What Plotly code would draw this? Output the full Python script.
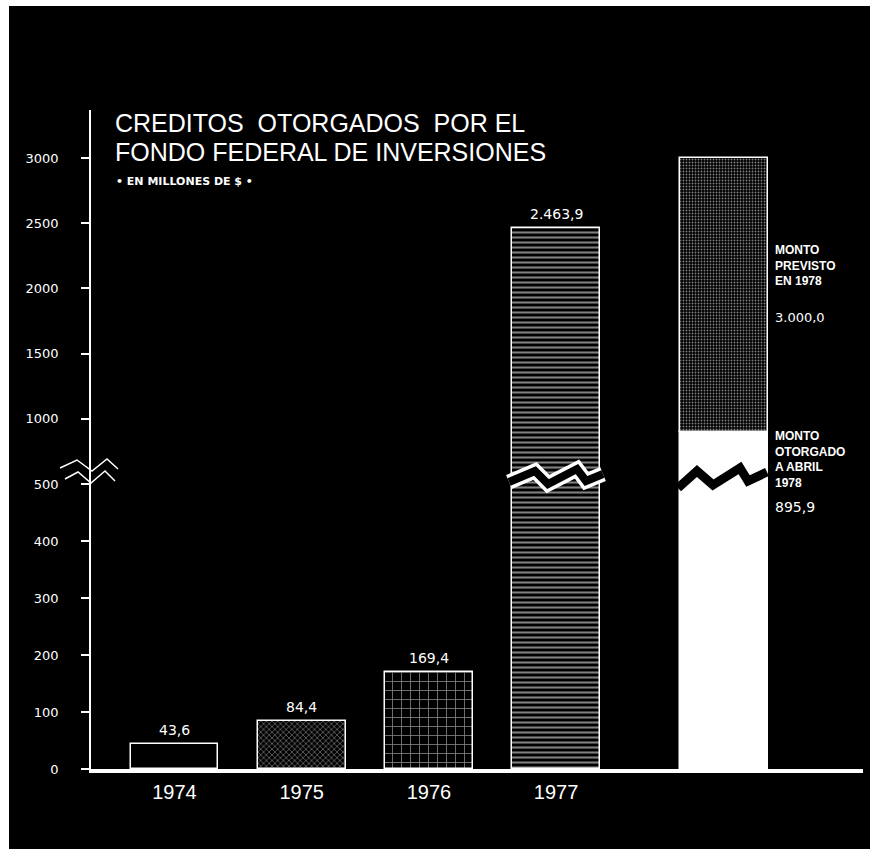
import plotly.graph_objects as go

# ---------------- data ----------------
years = ["1974", "1975", "1976", "1977"]
values = [43.6, 84.4, 169.4, 2463.9]
value_labels = ["43,6", "84,4", "169,4", "2.463,9"]
granted_1978 = 895.9
planned_1978 = 3000.0
tick_values = [0, 100, 200, 300, 400, 500, 1000, 1500, 2000, 2500, 3000]
tick_labels = ["0", "100", "200", "300", "400", "500", "1000", "1500", "2000", "2500", "3000"]

# ---------------- broken-scale mapping ----------------
BREAK = 500.0
UPPER_FACTOR = 0.2288  # compression of the scale above the break


def d(v):
    return v if v <= BREAK else BREAK + (v - BREAK) * UPPER_FACTOR


# ---------------- layout geometry ----------------
W, H = 882, 849
L, R, T, B = 91, 863, 110, 769
PW, PH = R - L, B - T


def px(x):
    return (x - L) / PW


def py(y):
    return (B - y) / PH


UNIT = 127.2
X0 = 174.5
x_range = [(L - X0) / UNIT, (R - X0) / UNIT]
y_range = [0, PH / 0.57]
BW = 0.69
pos = list(range(len(years)))
pos_1978 = len(years) + 0.32

fig = go.Figure()

patterns = [
    dict(shape=""),
    dict(shape="x", fgcolor="white", size=4, solidity=0.3),
    dict(shape="+", fgcolor="white", size=9, solidity=0.18),
    dict(shape="-", fgcolor="white", size=5, solidity=0.42),
]

annotations = []
for i, (yr, v) in enumerate(zip(years, values)):
    fig.add_trace(go.Bar(
        x=[pos[i]], y=[d(v)], width=BW,
        marker=dict(color="black", line=dict(color="white", width=1.5),
                    pattern=patterns[i]),
        showlegend=False, hoverinfo="skip",
    ))
    annotations.append(dict(x=pos[i], y=d(v), xref="x", yref="y", text=value_labels[i],
                            showarrow=False, yanchor="bottom", yshift=4,
                            font=dict(family="DejaVu Sans", size=14, color="white")))

# 1978 : granted (white) + planned remainder (dotted)
fig.add_trace(go.Bar(
    x=[pos_1978], y=[d(granted_1978)], width=BW,
    marker=dict(color="white", line=dict(color="white", width=1.5)),
    showlegend=False, hoverinfo="skip",
))
fig.add_trace(go.Bar(
    x=[pos_1978], y=[d(planned_1978) - d(granted_1978)], base=[d(granted_1978)], width=BW,
    marker=dict(color="black", line=dict(color="white", width=1.5),
                pattern=dict(shape=".", fgcolor="white", size=3, solidity=0.3)),
    showlegend=False, hoverinfo="skip",
))

shapes = []
# white page edges around the black panel
shapes.append(dict(type="rect", xref="paper", yref="paper", x0=px(0), x1=px(W), y0=py(0), y1=py(6),
                   fillcolor="white", line=dict(width=0), layer="above"))
shapes.append(dict(type="rect", xref="paper", yref="paper", x0=px(0), x1=px(9), y0=py(0), y1=py(H),
                   fillcolor="white", line=dict(width=0), layer="above"))
shapes.append(dict(type="rect", xref="paper", yref="paper", x0=px(870), x1=px(W), y0=py(0), y1=py(H),
                   fillcolor="white", line=dict(width=0), layer="above"))


def path(points):
    return "M " + " L ".join(f"{px(x):.5f},{py(y):.5f}" for x, y in points)


# axis break marks
shapes.append(dict(type="path", xref="paper", yref="paper",
                   path=path([(60, 468), (77, 460), (92, 471), (107, 459), (118, 469)]),
                   line=dict(color="white", width=1.5), layer="above"))
shapes.append(dict(type="path", xref="paper", yref="paper",
                   path=path([(65, 479), (78, 472), (91, 483), (105, 471), (115, 481)]),
                   line=dict(color="white", width=1.5), layer="above"))
# 1977 bar break
z77 = [(509, 482), (535, 471), (548, 484), (577, 469), (586, 481), (603, 474)]
shapes.append(dict(type="path", xref="paper", yref="paper", path=path(z77),
                   line=dict(color="white", width=15), layer="above"))
shapes.append(dict(type="path", xref="paper", yref="paper", path=path(z77),
                   line=dict(color="black", width=8), layer="above"))
# 1978 bar break
z78 = [(678, 488), (697, 471), (713, 485), (740, 468), (748, 481), (767, 472)]
shapes.append(dict(type="path", xref="paper", yref="paper", path=path(z78),
                   line=dict(color="black", width=9), layer="above"))

text_notes = [
    dict(x=px(113), y=py(123), text="CREDITOS  OTORGADOS  POR EL", xanchor="left", yanchor="middle",
         font=dict(family="Liberation Sans", size=25, color="white")),
    dict(x=px(113), y=py(152), text="FONDO FEDERAL DE INVERSIONES", xanchor="left", yanchor="middle",
         font=dict(family="Liberation Sans", size=25, color="white")),
    dict(x=px(114), y=py(181), text="• EN MILLONES DE $ •", xanchor="left", yanchor="middle",
         font=dict(family="DejaVu Sans", size=11, color="white", weight="bold")),
    dict(x=px(773), y=py(265), text="MONTO<br>PREVISTO<br>EN 1978", xanchor="left", yanchor="middle",
         align="left", font=dict(family="Liberation Sans", size=12, color="white", weight="bold")),
    dict(x=px(773), y=py(317), text="3.000,0", xanchor="left", yanchor="middle",
         font=dict(family="DejaVu Sans", size=13, color="white")),
    dict(x=px(773), y=py(459), text="MONTO<br>OTORGADO<br>A ABRIL<br>1978", xanchor="left", yanchor="middle",
         align="left", font=dict(family="Liberation Sans", size=12, color="white", weight="bold")),
    dict(x=px(773), y=py(507), text="895,9", xanchor="left", yanchor="middle",
         font=dict(family="DejaVu Sans", size=14, color="white")),
]
for a in text_notes:
    a.update(xref="paper", yref="paper", showarrow=False)
annotations.extend(text_notes)

fig.update_layout(
    width=W, height=H,
    margin=dict(l=L, r=W - R, t=T, b=H - B, pad=0),
    paper_bgcolor="black", plot_bgcolor="black",
    barmode="overlay", bargap=0,
    shapes=shapes, annotations=annotations,
    xaxis=dict(range=x_range, tickvals=pos, ticktext=years, showgrid=False, zeroline=False,
               showline=True, linecolor="white", linewidth=4, ticks="",
               tickfont=dict(family="Liberation Sans", size=20, color="white"),
               ticklabelstandoff=2, fixedrange=True),
    yaxis=dict(range=y_range, tickvals=[d(v) for v in tick_values], ticktext=tick_labels,
               showgrid=False, zeroline=False, showline=True, linecolor="white", linewidth=1.5,
               ticks="outside", ticklen=8, tickwidth=1.5, tickcolor="white",
               tickfont=dict(family="DejaVu Sans", size=13, color="white"),
               ticklabelstandoff=20, fixedrange=True),
    font=dict(color="white"),
)

fig.write_html("out.html", config={"displayModeBar": False},
               post_script="document.body.style.margin='0px';")
